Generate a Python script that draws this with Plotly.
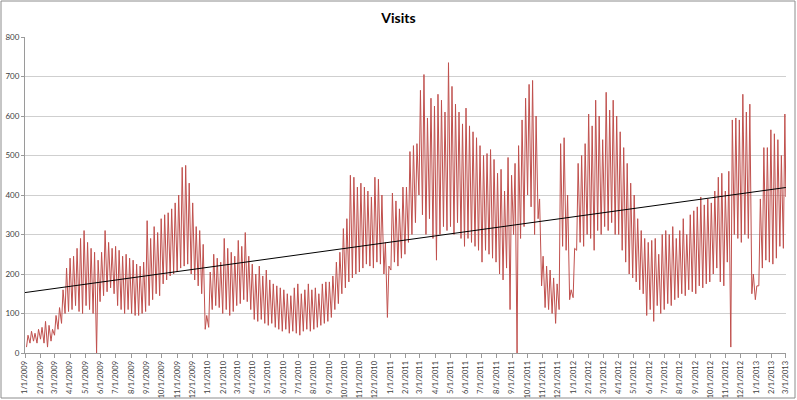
import pandas as pd
import plotly.graph_objects as go

# Weekly weekday peaks (Wednesdays) and weekend troughs (the Sunday before)
highs_2009 = [45, 55, 50, 60, 65, 80, 70, 60, 95, 115, 160, 215,
              240, 245, 265, 290, 310, 280, 265, 255, 235, 255, 310, 280, 265,
              270, 260, 245, 250, 240, 235, 225, 220, 230, 335, 290, 320, 305, 340,
              350, 355, 365, 380, 400, 470, 475, 430, 380, 320, 310, 275, 95]
lows_2009 = [15, 25, 30, 25, 35, 25, 15, 30, 45, 60, 75, 100,
             105, 110, 120, 105, 100, 120, 110, 100, 0, 130, 145, 155, 165,
             150, 120, 110, 100, 110, 100, 95, 95, 100, 105, 120, 135, 150, 145,
             175, 185, 195, 200, 205, 215, 220, 225, 200, 185, 170, 150, 60]

highs_2010 = [205, 250, 240, 230, 290, 265, 255, 245, 285, 270, 305, 245, 225,
              200, 220, 195, 210, 185, 175, 170, 165, 160, 150, 145, 165, 175,
              150, 160, 175, 160, 165, 150, 175, 180, 180, 195, 230, 255, 315,
              340, 450, 445, 420, 430, 420, 410, 395, 445, 440, 400, 280, 220]
lows_2010 = [65, 110, 120, 115, 100, 110, 95, 105, 120, 125, 135, 130, 110,
             85, 80, 85, 75, 70, 75, 65, 60, 55, 60, 50, 55, 50,
             45, 55, 60, 55, 60, 65, 70, 75, 80, 90, 110, 125, 150,
             165, 180, 190, 200, 205, 215, 225, 220, 215, 230, 225, 200, 90]

highs_2011 = [405, 385, 365, 420, 420, 510, 525, 530, 665, 705, 595, 645, 625,
              655, 640, 610, 735, 675, 630, 610, 580, 620, 575, 560, 545, 525,
              500, 505, 515, 490, 455, 465, 410, 495, 450, 480, 525, 590, 645,
              680, 690, 600, 390, 245, 220, 210, 190, 175, 530, 545, 400, 160]
lows_2011 = [210, 230, 220, 240, 250, 280, 300, 330, 400, 350, 300, 340, 290,
             235, 300, 320, 310, 320, 300, 330, 290, 270, 290, 280, 270, 260,
             230, 260, 250, 240, 230, 200, 185, 215, 110, 300, 0, 290, 320,
             400, 370, 300, 340, 170, 115, 110, 100, 75, 110, 270, 260, 135]

highs_2012 = [265, 480, 500, 530, 605, 575, 640, 600, 540, 660, 615, 640, 600,
              560, 520, 480, 430, 400, 340, 310, 290, 280, 285, 290, 250, 300,
              310, 300, 320, 290, 310, 340, 300, 350, 360, 370, 395, 375, 390,
              380, 410, 445, 455, 410, 460, 590, 595, 590, 655, 610, 630, 200]
lows_2012 = [140, 260, 280, 270, 300, 290, 260, 310, 300, 320, 310, 330, 300,
             300, 260, 230, 200, 190, 180, 160, 150, 95, 110, 80, 120, 100,
             110, 125, 120, 135, 140, 150, 145, 160, 155, 150, 170, 165, 175,
             180, 200, 215, 180, 170, 230, 15, 300, 290, 280, 300, 290, 150]

highs_2013 = [170, 390, 520, 520, 565, 555, 540, 500, 605]
lows_2013 = [135, 170, 215, 235, 230, 225, 240, 270, 265]

# Last reading, on the final axis date
end_date = "2013-03-01"
end_value = 395

# Linear trendline (values at the axis ends)
trend_dates = ["2009-01-01", "2013-03-01"]
trend_values = [153, 419]

highs = highs_2009 + highs_2010 + highs_2011 + highs_2012 + highs_2013
lows = lows_2009 + lows_2010 + lows_2011 + lows_2012 + lows_2013

wednesdays = pd.date_range("2009-01-07", periods=len(highs), freq="7D")
sundays = wednesdays - pd.Timedelta(days=3)

xs, ys = [], []
for s, w, lo, hi in zip(sundays, wednesdays, lows, highs):
    xs += [s, w]
    ys += [lo, hi]
xs.append(pd.Timestamp(end_date))
ys.append(end_value)

fig = go.Figure()
fig.add_trace(go.Scatter(x=xs, y=ys, mode="lines",
                         line=dict(color="#C0504D", width=1), name="Visits"))
fig.add_trace(go.Scatter(x=pd.to_datetime(trend_dates), y=trend_values, mode="lines",
                         line=dict(color="#000000", width=1), name="Trend"))

fig.update_layout(
    width=797, height=400,
    margin=dict(l=25, r=11, t=37, b=47),
    paper_bgcolor="white", plot_bgcolor="white",
    showlegend=False,
    font=dict(family="Lato, sans-serif", color="#404040"),
    title=dict(text="<b>Visits</b>", x=0.5, xanchor="center", y=0.955, yanchor="middle",
               font=dict(size=14, color="#000000", family="Lato, sans-serif")),
)
fig.update_yaxes(range=[0, 800], dtick=100, showgrid=True, gridcolor="#CFCFCF",
                 gridwidth=1, showline=True, linecolor="#9A9A9A", linewidth=1,
                 ticks="outside", ticklen=3, tickcolor="#9A9A9A", automargin=False,
                 tickfont=dict(size=8, color="#404040"), zeroline=False)
fig.update_xaxes(type="date", range=["2009-01-01", "2013-03-01 06:00"],
                 tick0="2009-01-01", dtick="M1", tickformat="%-m/%-d/%Y",
                 tickangle=-90, ticks="outside", ticklen=4, tickcolor="#9A9A9A",
                 showline=True, linecolor="#9A9A9A", linewidth=1, showgrid=False,
                 automargin=False,
                 tickfont=dict(size=7.5, color="#404040"), zeroline=False)

fig.add_shape(type="rect", xref="paper", yref="paper",
              x0=-24 / 761, x1=770 / 761, y0=-45 / 316, y1=352 / 316,
              line=dict(color="#8C8C8C", width=1), fillcolor="rgba(0,0,0,0)", layer="above")

fig.write_html("out.html", config={"displayModeBar": False},
               post_script="document.body.style.margin='0';document.body.style.overflow='hidden';")
